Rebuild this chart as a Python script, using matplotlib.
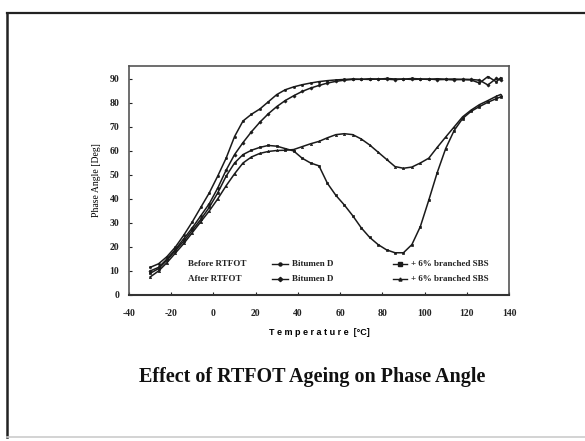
import matplotlib
matplotlib.use("Agg")
import matplotlib.pyplot as plt
from matplotlib.lines import Line2D
import numpy as np

temps = [-30, -26, -22, -18, -14, -10, -6, -2, 2, 6, 10, 14, 18, 22, 26, 30, 34, 38,
         42, 46, 50, 54, 58, 62, 66, 70, 74, 78, 82, 86, 90, 94, 98, 102, 106, 110,
         114, 118, 122, 126, 130, 134, 136]

before_bitumen_d = [11.5, 13.0, 16.0, 20.0, 25.0, 30.5, 36.5, 42.5, 49.5, 57.0, 66.0, 72.5,
                    75.3, 77.5, 80.5, 83.5, 85.5, 86.7, 87.6, 88.3, 88.9, 89.3, 89.6, 89.8,
                    90.0, 89.8, 90.1, 89.9, 90.2, 90.0, 89.9, 90.2, 90.0, 89.8, 90.1, 89.9,
                    90.0, 89.7, 89.6, 88.3, 91.0, 88.8, 90.5]
after_bitumen_d = [10.0, 11.5, 15.0, 19.0, 23.5, 28.0, 33.0, 38.0, 44.5, 52.0, 58.5, 63.5,
                   68.0, 72.0, 75.5, 78.5, 81.0, 83.0, 84.8, 86.2, 87.3, 88.3, 89.0, 89.5,
                   89.8, 89.9, 89.8, 90.0, 89.9, 89.7, 90.0, 89.8, 89.9, 90.0, 89.7, 89.8,
                   89.6, 89.9, 89.8, 89.5, 87.5, 90.2, 89.5]
before_sbs = [9.0, 11.0, 14.5, 18.5, 22.5, 27.0, 31.5, 36.5, 42.5, 49.5, 55.0, 58.5,
              60.3, 61.5, 62.3, 62.0, 61.0, 60.0, 57.0, 55.0, 53.8, 46.5, 41.5, 37.5,
              33.0, 28.0, 24.0, 21.0, 18.8, 17.6, 17.6, 21.0, 28.5, 39.5, 51.0, 61.0,
              68.5, 73.5, 76.5, 78.5, 80.3, 81.8, 82.5]
after_sbs = [7.5, 10.0, 13.5, 17.5, 21.5, 26.0, 30.5, 35.0, 40.0, 45.5, 50.5, 55.0,
             57.5, 59.0, 59.8, 60.2, 60.3, 60.6, 61.8, 63.0, 64.0, 65.5, 66.8, 67.2,
             66.8, 65.0, 62.5, 59.5, 56.5, 53.5, 52.8, 53.3, 55.0, 57.0, 61.5, 65.8,
             70.0, 74.2, 77.0, 79.3, 81.0, 82.8, 83.5]

x_ticks = [-40, -20, 0, 20, 40, 60, 80, 100, 120, 140]
y_ticks = [0, 10, 20, 30, 40, 50, 60, 70, 80, 90]

series = [
    (before_bitumen_d, "o", "-"),
    (after_bitumen_d, "D", "-"),
    (before_sbs, "s", "-"),
    (after_sbs, "^", "-"),
]

fig = plt.figure(figsize=(5.85, 4.41), dpi=100)
fig.patch.set_facecolor("white")

# outer frame
fig.add_artist(Line2D([7 / 585, 7 / 585], [1 - 13 / 441, 1 - 437 / 441], color="#222222", lw=1.8,
                      transform=fig.transFigure))
fig.add_artist(Line2D([7 / 585, 1.0], [1 - 13 / 441, 1 - 13 / 441], color="#222222", lw=1.6,
                      transform=fig.transFigure))
fig.add_artist(Line2D([7 / 585, 1.0], [1 - 437 / 441, 1 - 437 / 441], color="#cccccc", lw=1.2,
                      transform=fig.transFigure))

ax = fig.add_axes([129 / 585, 1 - 295 / 441, 380 / 585, 229 / 441])
lc = "#1a1a1a"
for vals, mk, ls in series:
    ax.plot(temps, vals, color=lc, lw=1.1, ls=ls, marker=mk, ms=1.6, mew=0.5)

ax.set_xlim(-40, 140)
ax.set_ylim(0, 95.4)
ax.set_xticks(x_ticks)
ax.set_yticks(y_ticks)
tf = dict(family="Liberation Serif", weight="bold", size=7)
ax.set_xticklabels([str(v) for v in x_ticks], fontdict=tf)
ax.set_yticklabels([str(v) for v in y_ticks], fontdict=tf)
ax.tick_params(axis="x", direction="in", length=2.5, width=0.8, pad=10, colors="#222222")
ax.tick_params(axis="y", direction="in", length=2.5, width=0.8, pad=7, colors="#222222")
for name, sp in ax.spines.items():
    sp.set_color("#555555")
    sp.set_linewidth(1.2)
ax.spines["bottom"].set_color("#333333")
ax.spines["bottom"].set_linewidth(1.5)

ax.set_xlabel("T e m p e r a t u r e  [°C]", family="Liberation Sans", weight="bold", size=6.5,
              labelpad=7)
ax.set_ylabel("Phase Angle [Deg]", family="Liberation Serif", size=7, labelpad=6)

# legend drawn in axes coordinates
lt = dict(family="Liberation Serif", weight="bold", size=6.5, color="#222222", va="center",
          transform=ax.transAxes)
rows = [0.135, 0.070]
ax.text(0.155, rows[0], "Before RTFOT", **lt)
ax.text(0.155, rows[1], "After RTFOT", **lt)
handles = [
    (0.376, 0.418, rows[0], "o", "Bitumen D"),
    (0.376, 0.418, rows[1], "D", "Bitumen D"),
    (0.695, 0.732, rows[0], "s", "+ 6% branched SBS"),
    (0.695, 0.732, rows[1], "^", "+ 6% branched SBS"),
]
for x0, x1, yy, mk, lab in handles:
    ax.add_line(Line2D([x0, x1], [yy, yy], color=lc, lw=1.0, transform=ax.transAxes))
    ax.add_line(Line2D([(x0 + x1) / 2], [yy], color=lc, marker=mk, ms=2.2, lw=0,
                       transform=ax.transAxes))
    ax.text(x1 + 0.01, yy, lab, **lt)

fig.text(312 / 585, 1 - 377 / 441, "Effect of RTFOT Ageing on Phase Angle",
         family="Liberation Serif", weight="bold", size=14.5, ha="center", va="center",
         color="#111111")

fig.savefig("out.png", dpi=100)
